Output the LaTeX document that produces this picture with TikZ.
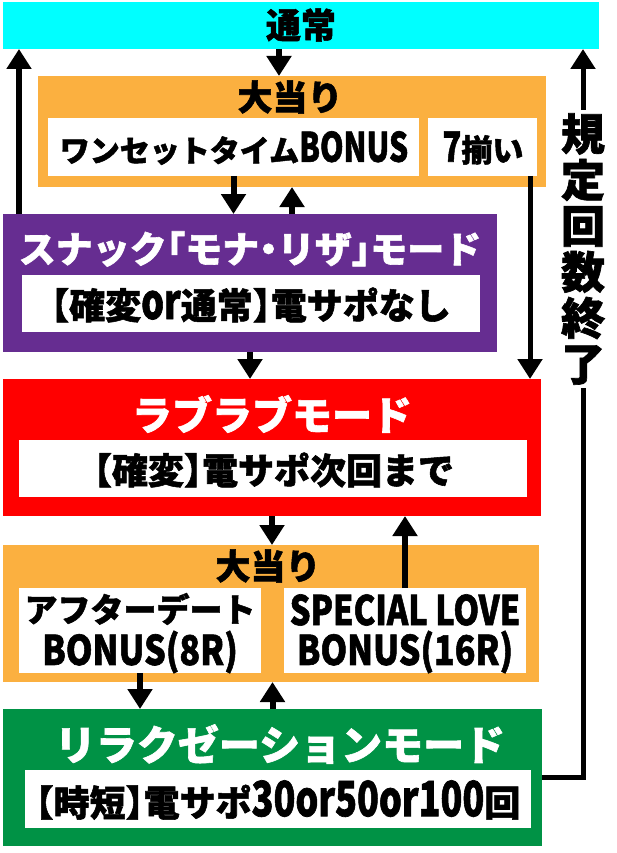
\documentclass[tikz,border=0pt]{standalone}
\usepackage{fontspec}
\usepackage{graphicx}
\setmainfont{Noto Sans CJK JP}[BoldFeatures={FakeBold=1.5}]
\usetikzlibrary{arrows.meta}
\definecolor{cyanc}{RGB}{0,255,255}
\definecolor{orangec}{RGB}{251,176,64}
\definecolor{purplec}{RGB}{102,45,145}
\definecolor{redc}{RGB}{255,0,0}
\definecolor{greenc}{RGB}{0,146,69}
\newcommand\ltn[1]{\scalebox{1}[1.35]{#1}}
\newcommand\ltnb[1]{\scalebox{1}[1.2]{#1}}
\newcommand\ltnn[1]{\scalebox{0.96}[1.2]{#1}}
\newcommand\hb[1]{{\addfontfeatures{RawFeature=+halt}#1}}
\begin{document}
\begin{tikzpicture}[x=1pt,y=-1pt,
  panel/.style={anchor=north west, inner sep=0pt, outer sep=0pt, draw=none},
  txt/.style={inner sep=0pt, outer sep=0pt, align=center,
    font=\bfseries\fontsize{#1}{#1}\selectfont},
  arr/.style={line width=6pt, -{Triangle[width=24pt,length=20pt]}},
  thin/.style={line width=5pt},
  thinarr/.style={line width=5pt, -{Triangle[width=24pt,length=20pt]}}]
\useasboundingbox[fill=white] (0,0) rectangle (617,853);

% panels
\node[panel, fill=cyanc, minimum width=596pt, minimum height=47pt] (cyan) at (3,2) {};
\node[panel, fill=orangec, minimum width=508pt, minimum height=111pt] (or1) at (38,76) {};
\node[panel, fill=white, minimum width=371pt, minimum height=58pt] (w1) at (48,118) {};
\node[panel, fill=white, minimum width=109pt, minimum height=58pt] (w2) at (428,118) {};
\node[panel, fill=purplec, minimum width=494pt, minimum height=138pt] (pur) at (3,214) {};
\node[panel, fill=white, minimum width=458pt, minimum height=57pt] (pw) at (22,275) {};
\node[panel, fill=redc, minimum width=538pt, minimum height=137pt] (red) at (3,379) {};
\node[panel, fill=white, minimum width=508pt, minimum height=57pt] (rw) at (19,440) {};
\node[panel, fill=orangec, minimum width=536pt, minimum height=137pt] (or2) at (3,545) {};
\node[panel, fill=white, minimum width=242pt, minimum height=85pt] (w3) at (19,588) {};
\node[panel, fill=white, minimum width=242pt, minimum height=85pt] (w4) at (284,588) {};
\node[panel, fill=greenc, minimum width=539pt, minimum height=137pt] (grn) at (3,709) {};
\node[panel, fill=white, minimum width=506pt, minimum height=58pt] (gw) at (25,770) {};

% texts
\node[txt=35] (t0) at (301,25) {通常};
\node[txt=35] (t1) at (290,97) {大当り};
\node[txt=30] (t2) at (234,148) {ワンセットタイム\ltn{BONUS}};
\node[txt=31] (t3) at (483,148) {\ltn{7}揃い};
\node[txt=37, text=white] (t4) at (250,249) {スナック\hb{「}モナ\hb{・}リザ\hb{」}モード};
\node[txt=36] (t5) at (251,305) {\hb{【}確変\ltn{or}通常\hb{】}電サポなし};
\node[txt=40, text=white] (t6) at (272,414) {ラブラブモード};
\node[txt=36] (t7) at (274,470) {\hb{【}確変\hb{】}電サポ次回まで};
\node[txt=35] (t8) at (268,566) {大当り};
\node[txt=33] (t9a) at (140,609) {アフターデート};
\node[txt=34] (t9b) at (140,652) {\ltnb{BONUS(8R)}};
\node[txt=34] (t10a) at (405,610) {\ltnn{SPECIAL LOVE}};
\node[txt=34] (t10b) at (405,652) {\ltnb{BONUS(16R)}};
\node[txt=41, text=white] (t11) at (280,744) {リラクゼーションモード};
\node[txt=36] (t12) at (278,800) {\hb{【}時短\hb{】}電サポ\ltn{30or50or100}回};
\node[inner sep=3pt, align=center, font=\bfseries\fontsize{44}{46}\selectfont] (kaisu) at (583,249) {規\\定\\回\\数\\終\\了};

% connectors
\draw[arr] ([xshift=-22pt]cyan.south) -- ([xshift=-22pt]cyan.south |- or1.north);
\draw[arr] ([xshift=16pt]pur.north west) -- ([xshift=16pt]pur.north west |- cyan.south);
\draw[arr] (w1.south) -- (w1.south |- pur.north);
\draw[arr] ([xshift=42pt]pur.north) -- ([xshift=42pt]pur.north |- or1.south);
\draw[thinarr] ([xshift=47.5pt]w2.south) -- ([xshift=47.5pt]w2.south |- red.north);
\draw[arr] (pur.south) -- (pur.south |- red.north);
\draw[arr] (red.south) -- (red.south |- or2.north);
\draw[arr] (w4.north) -- (w4.north |- red.south);
\draw[arr] (w3.south) -- (w3.south |- grn.north);
\draw[arr] (grn.north) -- (grn.north |- or2.south);
\draw[thin] (grn.east) -| (kaisu.south);
\draw[thinarr] (kaisu.north) -- (kaisu.north |- cyan.south);
\end{tikzpicture}
\end{document}
